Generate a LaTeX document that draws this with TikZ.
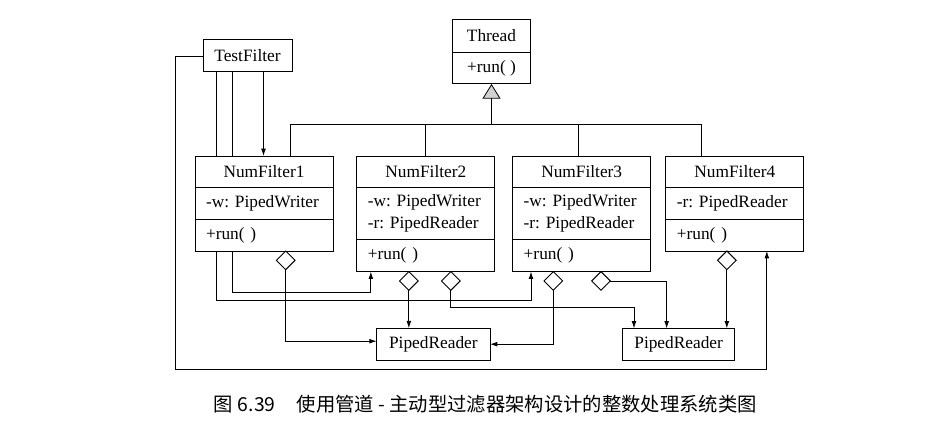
\documentclass[tikz,border=0pt]{standalone}
\usepackage{fontspec}
\setmainfont{Liberation Serif}
\newfontfamily\cjk{Noto Sans CJK SC}
\usetikzlibrary{positioning,calc,arrows.meta,shapes.geometric}
\pgfdeclarelayer{background}
\pgfsetlayers{background,main}
\frenchspacing
\tikzset{
  cls/.style={draw, fill=white, line width=0.75pt, outer sep=0pt, inner sep=0pt,
              minimum height=23.75pt, font=\fontsize{13}{16.5}\selectfont},
  head/.style={cls, minimum width=103.5pt},
  body/.style={cls, align=left, text width=87pt, inner xsep=8.25pt},
  agg/.style={draw, fill=white, line width=0.7pt, shape=diamond, aspect=1,
              minimum size=14pt, inner sep=0pt, outer sep=0pt},
  conn/.style={line width=0.6pt},
  arr/.style={conn, -{Latex[length=5.5pt,width=3.6pt]}},
  inherit/.style={conn, -{Triangle[length=11pt,width=13.5pt,fill=gray!35]}}
}
\begin{document}
\begin{tikzpicture}[x=0.75pt,y=-0.75pt]
  \useasboundingbox (0,0) rectangle (951,427);

  % classes
  \node[cls, minimum width=66.75pt, minimum height=24pt] (tf) at (247.5,56) {TestFilter};
  \node[cls, minimum width=58.8pt, minimum height=24.75pt] (thr) at (491.5,35.8) {Thread};
  \node[cls, minimum width=58.8pt, below=0pt of thr] (thrm) {+run( )};

  \node[head] (nf1) at (264,171.85) {NumFilter1};
  \node[body, below=0pt of nf1] (nf1a) {-w: PipedWriter};
  \node[body, below=0pt of nf1a] (nf1m) {+run( )};

  \node[head] (nf2) at (425.85,171.85) {NumFilter2};
  \node[body, minimum height=39.2pt, below=0pt of nf2] (nf2a) {-w: PipedWriter\\-r: PipedReader};
  \node[body, below=0pt of nf2a] (nf2m) {+run( )};

  \node[head] (nf3) at (581.7,171.85) {NumFilter3};
  \node[body, minimum height=39.2pt, below=0pt of nf3] (nf3a) {-w: PipedWriter\\-r: PipedReader};
  \node[body, below=0pt of nf3a] (nf3m) {+run( )};

  \node[head] (nf4) at (734.85,171.85) {NumFilter4};
  \node[body, below=0pt of nf4] (nf4a) {-r: PipedReader};
  \node[body, below=0pt of nf4a] (nf4m) {+run( )};

  \node[cls, minimum width=85pt, minimum height=24pt] (pr1) at (433.35,344.2) {PipedReader};
  \node[cls, minimum width=84.5pt, minimum height=24pt] (pr2) at (678.65,344.4) {PipedReader};

  % diamonds
  \node[agg, anchor=north] (d1) at ($(nf1m.south)+(21.7,0)$) {};
  \node[agg, anchor=north] (d2a) at ($(nf2m.south)+(-17,0)$) {};
  \node[agg, anchor=north] (d2b) at ($(nf2m.south)+(25,0)$) {};
  \node[agg, anchor=north] (d3a) at ($(nf3m.south)+(-28.4,0)$) {};
  \node[agg, anchor=north] (d3b) at ($(nf3m.south)+(19.3,0)$) {};
  \node[agg, anchor=north] (d4) at ($(nf4m.south)+(-8,0)$) {};

  \node[font=\cjk\fontsize{14.5}{14.5}\selectfont] (cap) at (485,404)
    {图\;6.39\hspace{1.1em}使用管道 - 主动型过滤器架构设计的整数处理系统类图};

  \begin{pgfonlayer}{background}
    % inheritance
    \coordinate (bus) at ($(thrm.south)+(0,40)$);
    \draw[inherit] (bus) -- (thrm.south);
    \draw[conn] ($(nf1.north)+(26,0)$) |- (bus) -| ($(nf4.north)+(-33,0)$);
    \draw[conn] (nf2.north) -- (nf2.north |- bus);
    \coordinate (n3t) at ($(nf3.north)+(-3,0)$);
    \draw[conn] (n3t) -- (n3t |- bus);

    % TestFilter
    \coordinate (tfa) at ($(tf.south)+(16,0)$);
    \coordinate (tfb) at ($(tf.south)+(-15,0)$);
    \coordinate (tfc) at ($(tf.south)+(-31,0)$);
    \coordinate (n2in) at ($(nf2m.south)+(-55,0)$);
    \coordinate (n3in) at ($(nf3m.south)+(-50.7,0)$);
    \coordinate (lowleft) at (175,369);
    \draw[arr] (tfa) -- (tfa |- nf1.north);
    \draw[arr] (tfb) |- ($(n2in)+(0,20.6)$) -- (n2in);
    \draw[arr] (tfc) |- ($(n3in)+(0,28.3)$) -- (n3in);
    \draw[arr] (tf.west) -| (lowleft) -| ($(nf4m.south)+(32,0)$);

    % aggregations
    \coordinate (p2a) at ($(pr2.north)+(-44.65,0)$);
    \draw[arr] (d1.south) |- ($(pr1.west)+(0,-3)$);
    \draw[arr] (d2a.south) -- (d2a.south |- pr1.north);
    \draw[arr] (d2b.south) |- ($(p2a)+(0,-20.7)$) -- (p2a);
    \draw[arr] (d3a.south) |- (pr1.east);
    \draw[arr] (d3b.east) -| ($(pr2.north)+(-12,0)$);
    \draw[arr] (d4.south) -- (d4.south |- pr2.north);
  \end{pgfonlayer}
\end{tikzpicture}
\end{document}
